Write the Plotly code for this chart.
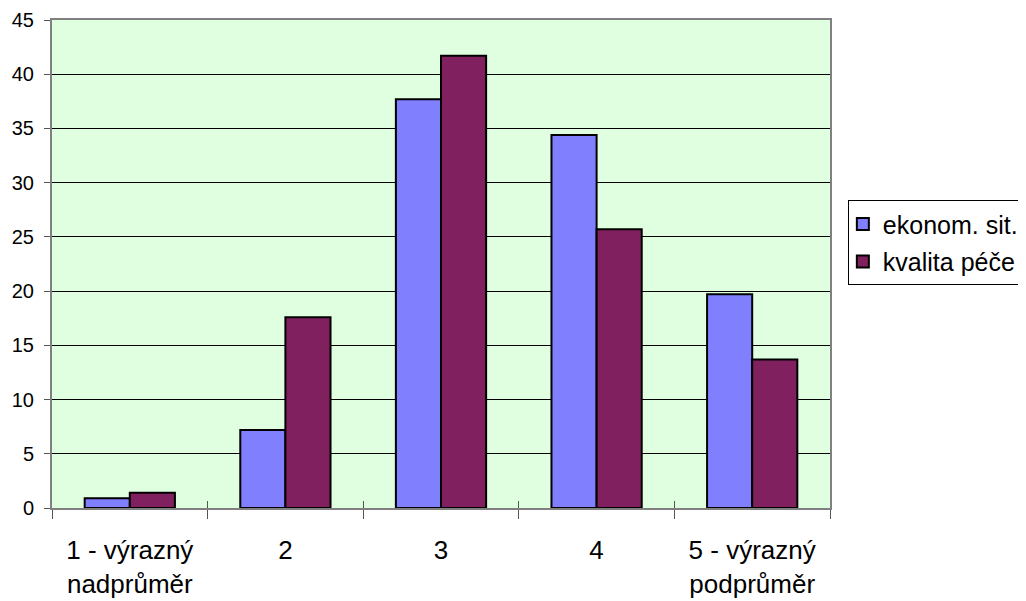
import plotly.graph_objects as go

categories = ["1 - výrazný<br>nadprůměr", "2", "3", "4", "5 - výrazný<br>podprůměr"]
ekonom_sit = [0.9, 7.2, 37.7, 34.4, 19.7]
kvalita_pece = [1.4, 17.6, 41.7, 25.7, 13.7]
series_names = ["ekonom. sit.", "kvalita péče"]
y_ticks = [0, 5, 10, 15, 20, 25, 30, 35, 40, 45]

FONT = "Liberation Sans, Arial, sans-serif"
fig = go.Figure()
fig.add_trace(go.Bar(x=categories, y=ekonom_sit, name=series_names[0], legendgroup="a",
                     marker=dict(color="#8080FF", line=dict(color="black", width=2))))
fig.add_trace(go.Bar(x=categories, y=kvalita_pece, name=series_names[1], legendgroup="b",
                     marker=dict(color="#80205F", line=dict(color="black", width=2))))
# helper trace to draw inward tick marks at category boundaries
fig.add_trace(go.Scatter(x=categories, y=[None] * len(categories), xaxis="x2", mode="lines",
                         showlegend=False, hoverinfo="skip"))

# page body has an 8px margin, so the figure is 8px smaller on each side
fig.update_layout(
    width=1018, height=593,
    margin=dict(l=44, r=196, t=12, b=93, autoexpand=False),
    paper_bgcolor="white", plot_bgcolor="#E0FFE0",
    barmode="group", bargap=0.42, bargroupgap=0,
    font=dict(family=FONT, color="black"),
    showlegend=True,
    legend=dict(xref="container", yref="container", x=0.825, xanchor="left", y=0.676, yanchor="top",
                bordercolor="black", borderwidth=1, bgcolor="white",
                font=dict(size=25, family=FONT, color="black"),
                traceorder="grouped", tracegroupgap=2, itemwidth=30, indentation=-6),
    xaxis=dict(type="category", categoryorder="array", categoryarray=categories,
               tickson="boundaries", ticks="outside", ticklen=9, tickcolor="#555", tickwidth=1,
               showline=True, linecolor="#808080", linewidth=2, mirror=True, automargin=False,
               showgrid=False, tickfont=dict(size=26, family=FONT, color="black"),
               ticklabelstandoff=18),
    xaxis2=dict(type="category", overlaying="x", matches="x", side="bottom", anchor="y",
                tickson="boundaries", ticks="inside", ticklen=7, tickcolor="#555", tickwidth=1,
                showticklabels=False, showgrid=False, showline=False, automargin=False),
    yaxis=dict(range=[0, 45], tickvals=y_ticks, ticks="outside", ticklen=6, tickcolor="#555",
               showline=True, linecolor="#808080", linewidth=2, mirror=True, automargin=False,
               showgrid=True, gridcolor="black", gridwidth=1, zeroline=False,
               tickfont=dict(size=20, family=FONT, color="black"), ticklabelstandoff=6),
)
fig.write_html("out.html")
